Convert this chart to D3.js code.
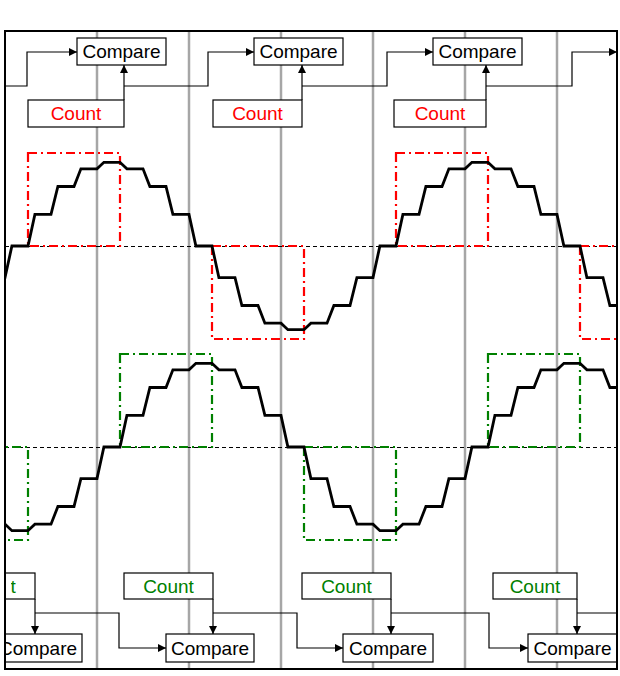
<!DOCTYPE html>
<html>
<head>
<meta charset="utf-8">
<script src="https://cdn.jsdelivr.net/npm/d3@7"></script>
<style>
  body { margin: 0; background: #fff; }
  text { font-family: "Liberation Sans", Arial, sans-serif; font-size: 19px; }
</style>
</head>
<body>
<div id="chart"></div>
<script>
// sample instants (in grid periods) and held values of the two staircase sines
const sampleTimes = [-0.25, 0, 0.25, 0.5, 0.75, 1, 1.25, 1.5, 1.75, 2, 2.25, 2.5, 2.75,
    3, 3.25, 3.5, 3.75, 4, 4.25, 4.5, 4.75, 5, 5.25, 5.5, 5.75, 6, 6.25, 6.5];
const topSamples = [-0.34, 0, 0.34, 0.64, 0.83, 0.9, 0.83, 0.64, 0.34, 0, -0.34, -0.64, -0.83,
    -0.9, -0.83, -0.64, -0.34, 0, 0.34, 0.64, 0.83, 0.9, 0.83, 0.64, 0.34, 0, -0.34, -0.64];
const bottomSamples = [-0.83, -0.9, -0.83, -0.64, -0.34, 0, 0.34, 0.64, 0.83, 0.9, 0.83, 0.64, 0.34,
    0, -0.34, -0.64, -0.83, -0.9, -0.83, -0.64, -0.34, 0, 0.34, 0.64, 0.83, 0.9, 0.83, 0.64];

// pulses: [start, end, level]
const redPulses = [[0.25, 1.25, 1], [2.25, 3.25, -1], [4.25, 5.25, 1], [6.25, 7.25, -1]];
const greenPulses = [[-0.75, 0.25, -1], [1.25, 2.25, 1], [3.25, 4.25, -1], [5.25, 6.25, 1]];

// vertical grid lines
const gridTimes = [1, 2, 3, 4, 5, 6];

const compareLabel = 'Compare';
const countLabel = 'Count';

const width = 620;
const height = 676;
const frame = { left: 5, top: 31, right: 617, bottom: 669 };
const rampLength = 0.075;

const x = d3.scaleLinear().domain([0, 6]).range([5, 557]);
const yTop = d3.scaleLinear().domain([-1, 1]).range([339, 153]);
const yBottom = d3.scaleLinear().domain([-1, 1]).range([540, 354]);

const svg = d3
    .select('#chart')
    .append('svg')
    .attr('width', width)
    .attr('height', height);

const defs = svg.append('defs');
defs.append('clipPath')
    .attr('id', 'frame-clip')
    .append('rect')
    .attr('x', frame.left)
    .attr('y', frame.top)
    .attr('width', frame.right - frame.left)
    .attr('height', frame.bottom - frame.top);

// the cut-off count label at the bottom left only shows its last letter
defs.append('clipPath')
    .attr('id', 'edge-text-clip')
    .append('rect')
    .attr('x', 11)
    .attr('y', frame.top)
    .attr('width', 100)
    .attr('height', frame.bottom - frame.top);

defs.append('marker')
    .attr('id', 'arrow')
    .attr('viewBox', '0 0 10 10')
    .attr('refX', 10)
    .attr('refY', 5)
    .attr('markerWidth', 9)
    .attr('markerHeight', 8)
    .attr('markerUnits', 'userSpaceOnUse')
    .attr('orient', 'auto')
    .append('path')
    .attr('d', 'M0,0 L10,5 L0,10 Z')
    .attr('fill', '#000');

const g = svg.append('g').attr('clip-path', 'url(#frame-clip)');

// grid
g.selectAll('.grid')
    .data(gridTimes)
    .join('line')
    .attr('x1', d => x(d))
    .attr('x2', d => x(d))
    .attr('y1', frame.top)
    .attr('y2', frame.bottom)
    .attr('stroke', '#a6a6a6')
    .attr('stroke-width', 2.5);

// zero lines (half-pixel offset keeps the 1px dashes crisp)
[yTop, yBottom].forEach(y => {
    g.append('line')
        .attr('x1', frame.left)
        .attr('x2', frame.right)
        .attr('y1', y(0) + 0.5)
        .attr('y2', y(0) + 0.5)
        .attr('stroke', '#000')
        .attr('stroke-width', 1)
        .attr('stroke-dasharray', '4,3');
});

// pulse rectangles
const drawPulses = (pulses, y, color) => {
    g.selectAll(null)
        .data(pulses)
        .join('rect')
        .attr('x', d => x(d[0]))
        .attr('width', d => x(d[1]) - x(d[0]))
        .attr('y', d => Math.min(y(0), y(d[2])))
        .attr('height', d => Math.abs(y(d[2]) - y(0)))
        .attr('fill', 'none')
        .attr('stroke', color)
        .attr('stroke-width', 2.2)
        .attr('stroke-dasharray', '9,4,2,4');
};
drawPulses(redPulses, yTop, '#ff0000');
drawPulses(greenPulses, yBottom, '#008000');

// staircase waves
const stairPoints = samples => {
    const pts = [];
    samples.forEach((v, i) => {
        const t = sampleTimes[i];
        pts.push([t, i === 0 ? v : samples[i - 1]]);
        pts.push([t + rampLength, v]);
    });
    pts.push([sampleTimes[sampleTimes.length - 1] + 0.25, samples[samples.length - 1]]);
    return pts;
};

[[topSamples, yTop], [bottomSamples, yBottom]].forEach(([samples, y]) => {
    const line = d3.line().x(d => x(d[0])).y(d => y(d[1]));
    g.append('path')
        .attr('d', line(stairPoints(samples)))
        .attr('fill', 'none')
        .attr('stroke', '#000')
        .attr('stroke-width', 2.8);
});

// block diagram
const drawBox = (x0, x1, y0, y1, label, color, textClip) => {
    g.append('rect')
        .attr('x', x0)
        .attr('y', y0)
        .attr('width', x1 - x0)
        .attr('height', y1 - y0)
        .attr('fill', '#fff')
        .attr('stroke', '#000')
        .attr('stroke-width', 1.2);
    const t = g.append('text')
        .attr('x', (x0 + x1) / 2)
        .attr('y', (y0 + y1) / 2)
        .attr('dy', '0.36em')
        .attr('text-anchor', 'middle')
        .attr('fill', color)
        .text(label);
    if (textClip) t.attr('clip-path', 'url(#' + textClip + ')');
};

const wire = (pts, arrow) => {
    const p = g.append('path')
        .attr('d', d3.line()(pts))
        .attr('fill', 'none')
        .attr('stroke', '#000')
        .attr('stroke-width', 1.2);
    if (arrow) p.attr('marker-end', 'url(#arrow)');
};

// top row
const topCompare = [[77, 166], [254, 343], [433, 522]];
const topCount = [[28, 124], [213, 302], [394, 486]];
topCompare.forEach(b => drawBox(b[0], b[1], 38, 65, compareLabel, '#000'));
topCount.forEach(b => {
    drawBox(b[0], b[1], 100, 127, countLabel, '#ff0000');
    wire([[b[1], 100], [b[1], 65]], true);
});
wire([[frame.left, 86], [27, 86], [27, 52], [77, 52]], true);
wire([[124, 86], [208, 86], [208, 52], [254, 52]], true);
wire([[302, 86], [387, 86], [387, 52], [433, 52]], true);
wire([[486, 86], [572, 86], [572, 52], [617, 52]], true);

// bottom row
const bottomCount = [[-54, 35], [124, 213], [302, 391], [493, 577]];
const bottomCompare = [[-6, 82], [166, 254], [343, 433], [528, 617]];
bottomCompare.forEach(b => drawBox(b[0], b[1], 634, 662, compareLabel, '#000'));
bottomCount.forEach((b, i) => {
    drawBox(b[0], b[1], 573, 599, countLabel, '#008000', i === 0 ? 'edge-text-clip' : null);
    wire([[b[1], 599], [b[1], 634]], true);
});
wire([[35, 613], [119, 613], [119, 648], [166, 648]], true);
wire([[213, 613], [297, 613], [297, 648], [343, 648]], true);
wire([[391, 613], [489, 613], [489, 648], [528, 648]], true);
wire([[577, 613], [frame.right, 613]], false);

// frame
svg.append('rect')
    .attr('x', frame.left)
    .attr('y', frame.top)
    .attr('width', frame.right - frame.left)
    .attr('height', frame.bottom - frame.top)
    .attr('fill', 'none')
    .attr('stroke', '#000')
    .attr('stroke-width', 2);
</script>
</body>
</html>
